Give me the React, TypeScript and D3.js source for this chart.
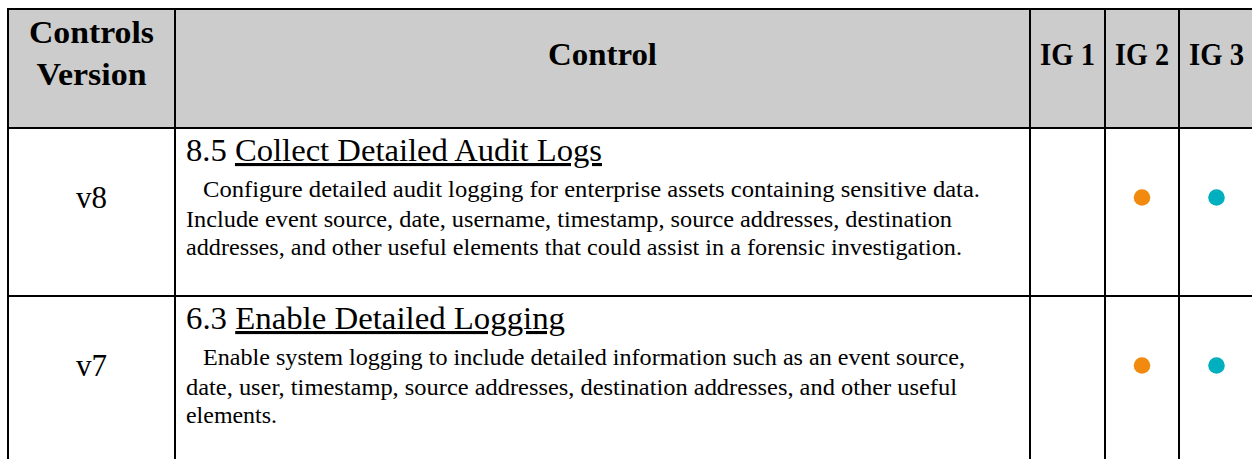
import * as d3 from "d3";
import React, { useEffect, useRef } from "react";

// table content
const headers = [["Controls", "Version"], ["Control"], ["IG 1"], ["IG 2"], ["IG 3"]];
const versions = ["v8", "v7"];
const controlIds = ["8.5", "6.3"];
const controlTitles = ["Collect Detailed Audit Logs", "Enable Detailed Logging"];
const controlText = [
    [
        "Configure detailed audit logging for enterprise assets containing sensitive data.",
        "Include event source, date, username, timestamp, source addresses, destination",
        "addresses, and other useful elements that could assist in a forensic investigation.",
    ],
    [
        "Enable system logging to include detailed information such as an event source,",
        "date, user, timestamp, source addresses, destination addresses, and other useful",
        "elements.",
    ],
];
const ig1 = [false, false];
const ig2 = [true, true];
const ig3 = [true, true];

const W = 1252;
const H = 459;
const colEdges = [8, 175, 1030, 1105, 1179, 1254];
const rowEdges = [9, 128, 296, 464];
const headerWidths = [[125, 110], [109], [55], [54], [55]];
const titleWidths = [416, 379];
const lineWidths = [
    [777, 766, 776],
    [762, 771, 91],
];
const FONT = "'Liberation Serif', 'Times New Roman', serif";
const igColors = ["#f18a0f", "#f18a0f", "#01afbf"];

export default function App() {
    const svgRef = useRef(null);

    useEffect(() => {
        const svg = d3.select(svgRef.current);
        svg.selectAll("*").remove();

        const rowTop = (i) => rowEdges[i + 1];
        const colMid = (j) => (colEdges[j] + colEdges[j + 1]) / 2;

        // header background
        svg.append("rect")
            .attr("x", colEdges[0])
            .attr("y", rowEdges[0])
            .attr("width", colEdges[colEdges.length - 1] - colEdges[0])
            .attr("height", rowEdges[1] - rowEdges[0])
            .attr("fill", "#cccccc");

        // header labels
        headers.forEach((lines, j) => {
            const baselines = lines.length === 2 ? [43, 85] : [65];
            lines.forEach((txt, k) => {
                svg.append("text")
                    .attr("x", colMid(j))
                    .attr("y", baselines[k])
                    .attr("text-anchor", "middle")
                    .attr("font-family", FONT)
                    .attr("font-weight", "bold")
                    .attr("font-size", 32)
                    .attr("textLength", headerWidths[j][k])
                    .attr("lengthAdjust", "spacingAndGlyphs")
                    .attr("fill", "#000")
                    .text(txt);
            });
        });

        versions.forEach((v, i) => {
            const top = rowTop(i);

            svg.append("text")
                .attr("x", colMid(0))
                .attr("y", top + 80)
                .attr("text-anchor", "middle")
                .attr("font-family", FONT)
                .attr("font-size", 31)
                .attr("fill", "#000")
                .text(v);

            const title = svg.append("text")
                .attr("x", 186)
                .attr("y", top + 33)
                .attr("font-family", FONT)
                .attr("font-size", 31)
                .attr("textLength", titleWidths[i])
                .attr("lengthAdjust", "spacingAndGlyphs")
                .attr("fill", "#000");
            title.append("tspan").text(controlIds[i] + " ");
            title.append("tspan")
                .attr("text-decoration", "underline")
                .text(controlTitles[i]);

            const lineY = [69, 98.5, 127];
            controlText[i].forEach((line, k) => {
                svg.append("text")
                    .attr("x", k === 0 ? 203 : 186)
                    .attr("y", top + lineY[k])
                    .attr("font-family", FONT)
                    .attr("font-size", 23)
                    .attr("textLength", lineWidths[i][k])
                    .attr("lengthAdjust", "spacingAndGlyphs")
                    .attr("fill", "#000")
                    .text(line);
            });

            [ig1[i], ig2[i], ig3[i]].forEach((on, g) => {
                if (!on) return;
                svg.append("circle")
                    .attr("cx", colMid(g + 2))
                    .attr("cy", top + 69.5)
                    .attr("r", 8.3)
                    .attr("fill", igColors[g]);
            });
        });

        // grid lines
        svg.append("g")
            .selectAll("line")
            .data(rowEdges)
            .join("line")
            .attr("x1", colEdges[0] - 1)
            .attr("x2", colEdges[colEdges.length - 1] + 1)
            .attr("y1", (d) => d)
            .attr("y2", (d) => d)
            .attr("stroke", "#000")
            .attr("stroke-width", 2);

        svg.append("g")
            .selectAll("line")
            .data(colEdges)
            .join("line")
            .attr("x1", (d) => d)
            .attr("x2", (d) => d)
            .attr("y1", rowEdges[0] - 1)
            .attr("y2", rowEdges[rowEdges.length - 1] + 1)
            .attr("stroke", "#000")
            .attr("stroke-width", 2);
    }, []);

    return (
        <svg
            ref={svgRef}
            width={W}
            height={H}
            style={{ position: "absolute", left: 0, top: 0, background: "#fff" }}
        ></svg>
    );
}
